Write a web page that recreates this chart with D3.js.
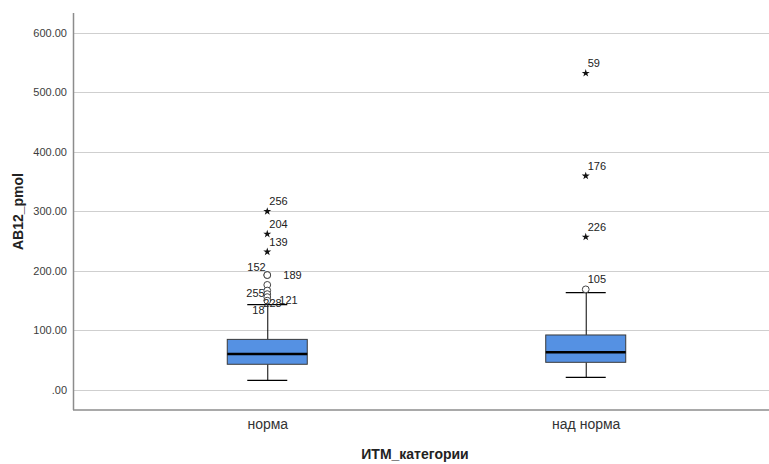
<!DOCTYPE html>
<html>
<head>
<meta charset="utf-8">
<script src="https://cdn.jsdelivr.net/npm/d3@7"></script>
<style>
  html, body { margin: 0; padding: 0; background: #fff; }
  svg { display: block; font-family: "Liberation Sans", Arial, sans-serif; }
</style>
</head>
<body>
<svg id="chart" width="769" height="464"></svg>
<script>
// Categories on the x axis
const categories = ["норма", "над норма"];

// Five-number summaries per category: lower whisker, Q1, median, Q3, upper whisker
const whiskerLow  = [16.3, 21.3];
const quartile1   = [43.2, 46.5];
const medians     = [60.5, 63.3];
const quartile3   = [85.0, 92.4];
const whiskerHigh = [143.5, 163.5];

// Outlying cases: category index, value, case number, kind (o = outlier, * = extreme)
const outlierGroup = [0, 0, 0, 0, 0, 0, 0, 0, 0, 0, 1, 1, 1, 1];
const outlierValue = [300, 262, 232, 193, 193, 176.5, 167, 161, 156, 150, 532, 359.5, 257, 169];
const outlierCase  = ["256", "204", "139", "152", "189", "", "255", "228", "121", "18", "59", "176", "226", "105"];
const outlierKind  = ["*", "*", "*", "o", "o", "o", "o", "o", "o", "o", "*", "*", "*", "o"];

// Y axis ticks
const yTicks = [0, 100, 200, 300, 400, 500, 600];
const yTickLabels = [".00", "100.00", "200.00", "300.00", "400.00", "500.00", "600.00"];

const yTitle = "AB12_pmol";
const xTitle = "ИТМ_категории";

const svg = d3.select("#chart");
const plotLeft = 73, plotTop = 13, plotBottom = 410, plotRight = 780;

const y = d3.scaleLinear().domain([0, 600]).range([390, 32.7]);
const x = d3.scalePoint().domain(categories).range([plotLeft, plotRight]).padding(0.61);

const boxW = 80, capW = 40;

// gridlines
svg.append("g").selectAll("line").data(yTicks).join("line")
  .attr("x1", plotLeft).attr("x2", 769)
  .attr("y1", d => Math.round(y(d)) + 0.5).attr("y2", d => Math.round(y(d)) + 0.5)
  .attr("stroke", "#cfcfcf").attr("stroke-width", 1.2);

// y axis
const yAxis = d3.axisLeft(y).tickValues(yTicks)
  .tickFormat((d, i) => yTickLabels[i]).tickSize(0).tickPadding(6);
const gy = svg.append("g").attr("transform", `translate(${plotLeft},0)`).call(yAxis);
gy.select(".domain").remove();
gy.selectAll("text").attr("font-size", 11).attr("fill", "#3c3c3c")
  .attr("font-family", "Liberation Sans, Arial, sans-serif");

// x axis
const xAxis = d3.axisBottom(x).tickSize(0).tickPadding(9);
const gx = svg.append("g").attr("transform", `translate(0,${plotBottom})`).call(xAxis);
gx.select(".domain").remove();
gx.selectAll("text").attr("font-size", 14).attr("fill", "#333")
  .attr("font-family", "Liberation Sans, Arial, sans-serif");

// axis lines
svg.append("line").attr("x1", plotLeft + 0.5).attr("x2", plotLeft + 0.5)
  .attr("y1", plotTop).attr("y2", plotBottom).attr("stroke", "#8c8c8c").attr("stroke-width", 1.5);
svg.append("line").attr("x1", plotLeft).attr("x2", 769)
  .attr("y1", plotBottom).attr("y2", plotBottom).attr("stroke", "#8c8c8c").attr("stroke-width", 1.5);

// boxplots
const boxes = categories.map((c, i) => ({
  c, lo: whiskerLow[i], q1: quartile1[i], med: medians[i], q3: quartile3[i], hi: whiskerHigh[i]
}));
const gb = svg.append("g").selectAll("g").data(boxes).join("g")
  .attr("transform", d => `translate(${x(d.c)},0)`);

gb.append("line").attr("x1", 0.5).attr("x2", 0.5)
  .attr("y1", d => y(d.hi)).attr("y2", d => y(d.q3)).attr("stroke", "#000");
gb.append("line").attr("x1", 0.5).attr("x2", 0.5)
  .attr("y1", d => y(d.q1)).attr("y2", d => y(d.lo)).attr("stroke", "#000");
gb.append("line").attr("x1", -capW / 2).attr("x2", capW / 2)
  .attr("y1", d => y(d.hi)).attr("y2", d => y(d.hi)).attr("stroke", "#000").attr("stroke-width", 1.3);
gb.append("line").attr("x1", -capW / 2).attr("x2", capW / 2)
  .attr("y1", d => y(d.lo)).attr("y2", d => y(d.lo)).attr("stroke", "#000").attr("stroke-width", 1.3);
gb.append("rect").attr("x", -boxW / 2).attr("width", boxW)
  .attr("y", d => y(d.q3)).attr("height", d => y(d.q1) - y(d.q3))
  .attr("fill", "#5591e3").attr("stroke", "#3a3a3a").attr("stroke-width", 1);
gb.append("line").attr("x1", -boxW / 2).attr("x2", boxW / 2)
  .attr("y1", d => y(d.med)).attr("y2", d => y(d.med)).attr("stroke", "#000").attr("stroke-width", 2.5);

// outlying points
const pts = outlierValue.map((v, i) => ({
  g: outlierGroup[i], v, id: outlierCase[i], kind: outlierKind[i]
}));
const go = svg.append("g");
const star = d3.symbol().type(d3.symbolStar).size(20);
go.selectAll("path.star").data(pts.filter(p => p.kind === "*")).join("path")
  .attr("class", "star").attr("d", star)
  .attr("transform", p => `translate(${x(categories[p.g])},${y(p.v)})`)
  .attr("fill", "#111");
go.selectAll("circle").data(pts.filter(p => p.kind === "o")).join("circle")
  .attr("cx", p => x(categories[p.g])).attr("cy", p => y(p.v)).attr("r", 3.4)
  .attr("fill", "#fff").attr("stroke", "#444").attr("stroke-width", 1);

// case labels: default sits above-right; crowded ones are nudged
const labelNudge = {
  "152": [-20, -8], "189": [16, 0], "255": [-21, 3],
  "228": [-4, 9], "121": [12, 3], "18": [-15, 9]
};
go.selectAll("text").data(pts.filter(p => p.id !== "")).join("text")
  .attr("x", p => x(categories[p.g]) + (labelNudge[p.id] ? labelNudge[p.id][0] : 2))
  .attr("y", p => y(p.v) + (labelNudge[p.id] ? labelNudge[p.id][1] : -10))
  .attr("dy", "0.35em")
  .attr("font-size", 11).attr("fill", "#222")
  .text(p => p.id);

// axis titles
svg.append("text").attr("transform", `translate(23,${(plotTop + plotBottom) / 2}) rotate(-90)`)
  .attr("text-anchor", "middle").attr("font-size", 14).attr("font-weight", "bold")
  .attr("fill", "#222").text(yTitle);
svg.append("text").attr("x", 415).attr("y", 459)
  .attr("text-anchor", "middle").attr("font-size", 14).attr("font-weight", "bold")
  .attr("fill", "#222").text(xTitle);
</script>
</body>
</html>
